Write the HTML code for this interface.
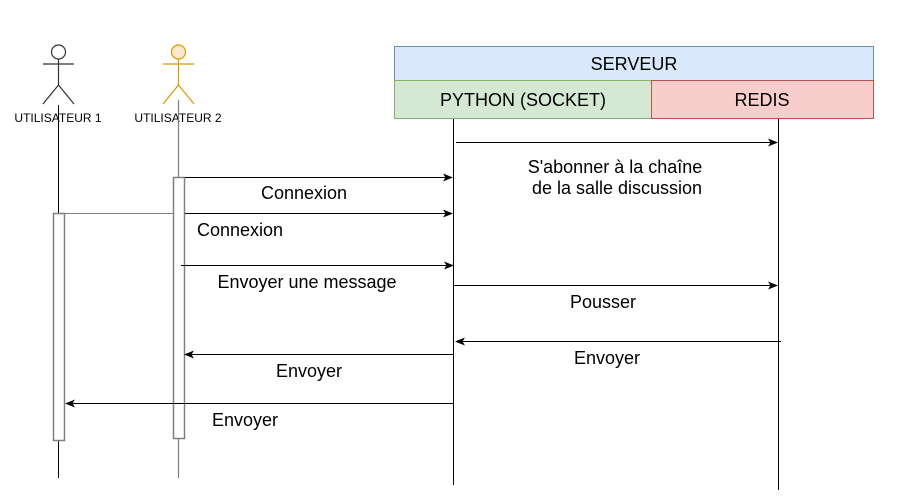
<!DOCTYPE html>
<html><head><meta charset="utf-8"><style>
html,body{margin:0;padding:0;background:#fff;}
svg{display:block;font-family:"Liberation Sans",Arial,sans-serif;}
</style></head><body>
<svg width="898" height="503" viewBox="0 0 898 503" xmlns="http://www.w3.org/2000/svg">
<defs>
<marker id="a" markerWidth="10" markerHeight="8" refX="9" refY="4" orient="auto" markerUnits="userSpaceOnUse">
<path d="M0,0 L10,4 L0,8 L2.5,4 Z" fill="#000"/></marker>
</defs>
<rect x="394.5" y="46.5" width="479" height="34" fill="#dae8fc" stroke="#6c8ebf"/>
<text x="634" y="70" font-size="18" text-anchor="middle" fill="#000">SERVEUR</text>
<rect x="394.5" y="80.5" width="257" height="38" fill="#d5e8d4" stroke="#82b366"/>
<text x="523" y="106" font-size="18" text-anchor="middle">PYTHON (SOCKET)</text>
<rect x="651.5" y="80.5" width="222" height="38" fill="#f8cecc" stroke="#b85450"/>
<text x="762" y="106" font-size="18" text-anchor="middle">REDIS</text>
<line x1="453.5" y1="119" x2="453.5" y2="485" stroke="#000"/>
<line x1="778.5" y1="119" x2="778.5" y2="490" stroke="#000"/>
<line x1="58.5" y1="105" x2="58.5" y2="478" stroke="#000"/>
<line x1="178.5" y1="100" x2="178.5" y2="478" stroke="#808080" stroke-width="1.2"/>
<g stroke="#333" fill="none" stroke-width="1.2">
<circle cx="58.5" cy="52" r="7" fill="#fff"/>
<line x1="43" y1="64" x2="74" y2="64"/>
<line x1="58.5" y1="59" x2="58.5" y2="85"/>
<line x1="58.5" y1="85" x2="43" y2="104"/>
<line x1="58.5" y1="85" x2="74" y2="104"/>
</g>
<g stroke="#d79b00" fill="none" stroke-width="1.2">
<circle cx="178.5" cy="52" r="7" fill="#ffe6cc"/>
<line x1="163" y1="64" x2="194" y2="64"/>
<line x1="178.5" y1="59" x2="178.5" y2="85"/>
<line x1="178.5" y1="85" x2="163" y2="104"/>
<line x1="178.5" y1="85" x2="194" y2="104"/>
</g>
<text x="58" y="122" font-size="12" text-anchor="middle">UTILISATEUR 1</text>
<text x="178" y="122" font-size="12" text-anchor="middle">UTILISATEUR 2</text>
<line x1="58.5" y1="112" x2="58.5" y2="125" stroke="#000"/>
<line x1="178.5" y1="112" x2="178.5" y2="125" stroke="#808080"/>
<line x1="64" y1="213.5" x2="174" y2="213.5" stroke="#808080"/>
<rect x="53.5" y="213.5" width="11" height="227" fill="#fff" stroke="#808080" stroke-width="1.5"/>
<rect x="173.5" y="177.5" width="11" height="261" fill="#fff" stroke="#808080" stroke-width="1.5"/>
<g stroke="#000" stroke-width="1">
<line x1="456" y1="142.5" x2="777" y2="142.5" marker-end="url(#a)"/>
<line x1="185" y1="177.5" x2="452" y2="177.5" marker-end="url(#a)"/>
<line x1="185" y1="213.5" x2="452" y2="213.5" marker-end="url(#a)"/>
<line x1="181" y1="265.5" x2="453" y2="265.5" marker-end="url(#a)"/>
<line x1="453" y1="285.5" x2="777" y2="285.5" marker-end="url(#a)"/>
<line x1="781" y1="341.5" x2="456" y2="341.5" marker-end="url(#a)"/>
<line x1="453" y1="354.5" x2="185" y2="354.5" marker-end="url(#a)"/>
<line x1="453" y1="403.5" x2="66" y2="403.5" marker-end="url(#a)"/>
</g>
<g font-size="18" text-anchor="middle" fill="#000">
<text x="615" y="173">S'abonner à la chaîne</text>
<text x="617" y="194">de la salle discussion</text>
<text x="304" y="199">Connexion</text>
<text x="240" y="236">Connexion</text>
<text x="307" y="288">Envoyer une message</text>
<text x="603" y="308">Pousser</text>
<text x="607" y="364">Envoyer</text>
<text x="309" y="377">Envoyer</text>
<text x="245" y="426">Envoyer</text>
</g>
</svg>
</body></html>
